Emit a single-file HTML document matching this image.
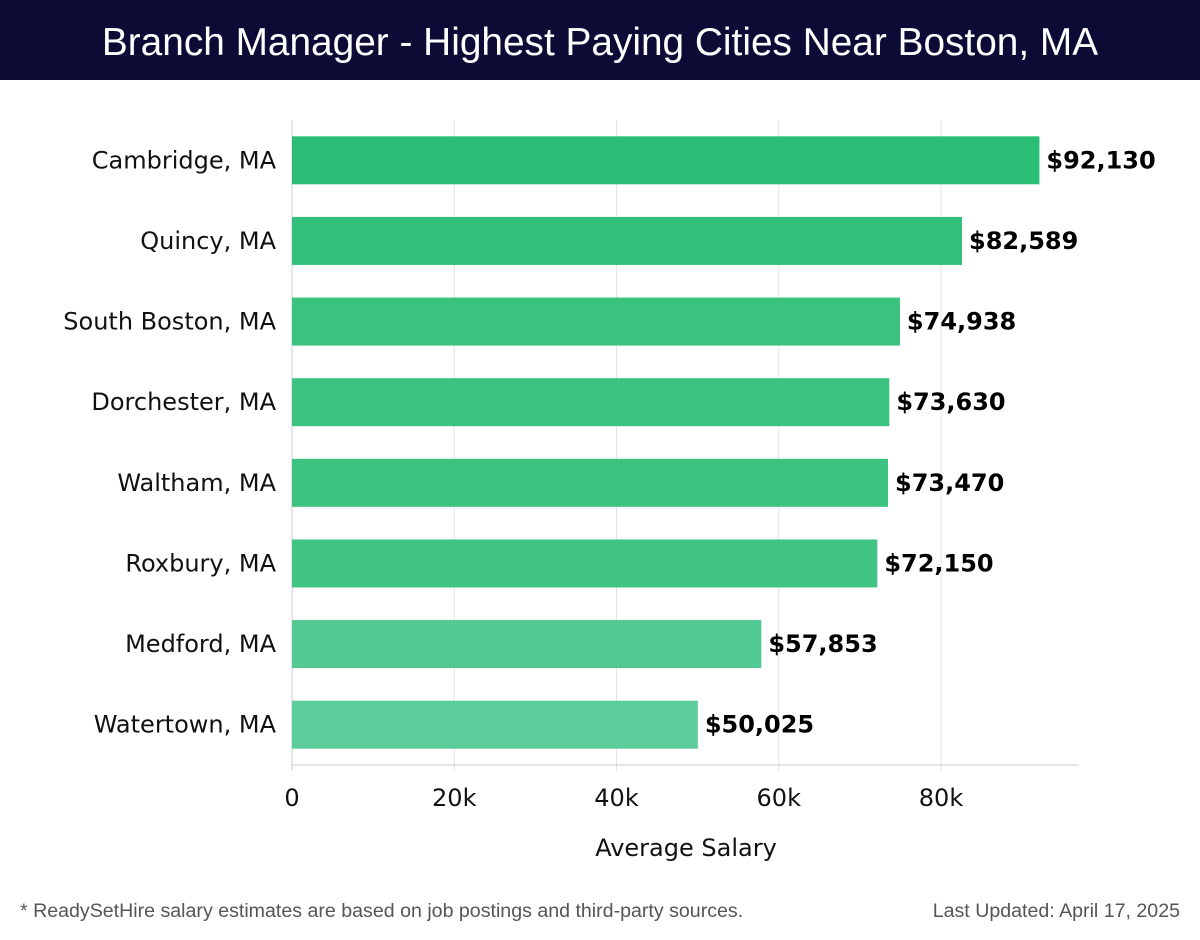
<!DOCTYPE html>
<html><head><meta charset="utf-8">
<style>
html,body{margin:0;padding:0;background:#fff;}
body{width:1200px;height:940px;position:relative;overflow:hidden;font-family:"Liberation Sans","DejaVu Sans",sans-serif;}
#title-bar{position:absolute;left:0;top:0;width:1200px;height:80px;background:#0b0b36;color:#fff;font-size:38.8px;text-align:center;line-height:86px;}
.foot{position:absolute;top:900px;font-size:19.6px;color:#555;}
</style></head><body>
<div id="title-bar">Branch Manager - Highest Paying Cities Near Boston, MA</div>
<svg id="chart" width="1200" height="940" style="position:absolute;left:0;top:0;pointer-events:none;font-family:'DejaVu Sans',sans-serif"></svg>
<div class="foot" style="left:20px">* ReadySetHire salary estimates are based on job postings and third-party sources.</div>
<div class="foot" style="right:20px">Last Updated: April 17, 2025</div>
<script>
const categories=["Cambridge, MA","Quincy, MA","South Boston, MA","Dorchester, MA","Waltham, MA","Roxbury, MA","Medford, MA","Watertown, MA"];
const salaries=[92130,82589,74938,73630,73470,72150,57853,50025];
const valueLabels=["$92,130","$82,589","$74,938","$73,630","$73,470","$72,150","$57,853","$50,025"];
const tickValues=[0,20000,40000,60000,80000];
const tickLabels=["0","20k","40k","60k","80k"];
const barColors=["#2abd76","#33c07c","#3ac27f","#3cc381","#3dc381","#40c483","#52c990","#5ccc9a"];

const NS="http://www.w3.org/2000/svg";
const svg=document.getElementById('chart');
const x0=292,pxPerUnit=(941-292)/80000,xMax=97000;
const plotTop=120,plotBottom=765,band=(plotBottom-plotTop)/categories.length;
const xs=v=>x0+v*pxPerUnit;
const yc=i=>plotTop+band*(i+0.5);
function mk(tag,attrs,text){const e=document.createElementNS(NS,tag);for(const k in attrs)e.setAttribute(k,attrs[k]);if(text!==undefined)e.textContent=text;svg.appendChild(e);return e;}
tickValues.forEach((t,i)=>{
  const g=mk('line',{x1:xs(t),x2:xs(t),y1:plotTop,y2:plotBottom+6,stroke:i===0?'#ccc':'#e3e3e3','stroke-width':1});
  
  
  const l=mk('text',{x:xs(t),y:806,'text-anchor':'middle','font-size':24,fill:'#111'},tickLabels[i]);
  
  
});
const ax=mk('line',{x1:x0,x2:xs(xMax),y1:plotBottom,y2:plotBottom,stroke:'#ccc','stroke-width':1});


const at=mk('text',{x:686,y:856,'text-anchor':'middle','font-size':24,fill:'#111'},'Average Salary');


categories.forEach((c,i)=>{
  const h=48,y=yc(i)-h/2;
  const r=mk('rect',{x:x0,y:y,width:xs(salaries[i])-x0,height:h,fill:barColors[i]});
  
  
  const v=mk('text',{x:xs(salaries[i])+7,y:yc(i)+8,'font-size':24,'font-weight':'bold',fill:'#000'},valueLabels[i]);
  
  
  const l=mk('text',{x:276,y:yc(i)+8,'text-anchor':'end','font-size':24,fill:'#111'},c);
  
  
});
</script>
</body></html>
